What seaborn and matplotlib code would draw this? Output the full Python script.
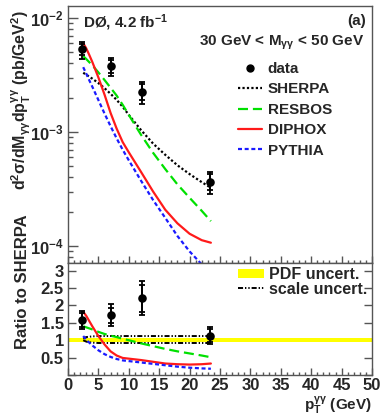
import numpy as np
import pandas as pd
import matplotlib
matplotlib.use("Agg")
import matplotlib.pyplot as plt
import seaborn as sns
from matplotlib.lines import Line2D
from matplotlib.patches import Patch
from matplotlib.ticker import MultipleLocator, LogLocator, FuncFormatter, NullFormatter

# ---- measured diphoton cross section, 30 GeV < M_gg < 50 GeV ----
pt_data = [2.3, 7.0, 12.1, 23.4]
xsec_data = [5.3e-3, 3.79e-3, 2.26e-3, 3.67e-4]
xsec_err_tot = [0.9e-3, 0.7e-3, 0.5e-3, 0.8e-4]
xsec_err_stat = [0.6e-3, 0.5e-3, 0.37e-3, 0.6e-4]

ratio_data = [1.58, 1.72, 2.21, 1.13]
ratio_err_tot = [0.27, 0.31, 0.49, 0.25]
ratio_err_stat = [0.19, 0.22, 0.39, 0.18]

# ---- theory predictions ----
pt_theory = [2.5, 3.0, 3.5, 4.0, 5.0, 6.0, 7.0, 8.0, 9.0, 10.0,
             12.0, 14.0, 16.0, 18.0, 20.0, 22.0, 23.5]
sherpa = [3.30e-3, 3.18e-3, 3.05e-3, 2.93e-3, 2.68e-3, 2.42e-3, 2.16e-3, 1.91e-3, 1.66e-3,
          1.41e-3, 1.04e-3, 7.9e-4, 6.3e-4, 5.1e-4, 4.27e-4, 3.63e-4, 3.24e-4]
resbos_ratio = [1.40, 1.37, 1.34, 1.31, 1.24, 1.18, 1.13, 1.09, 1.04, 1.00,
                0.91, 0.83, 0.75, 0.68, 0.62, 0.56, 0.51]
diphox_ratio = [1.82, 1.70, 1.55, 1.40, 1.12, 0.88, 0.68, 0.56, 0.49, 0.47,
                0.43, 0.38, 0.33, 0.31, 0.30, 0.31, 0.33]
pythia_ratio = [1.12, 1.02, 0.93, 0.85, 0.71, 0.60, 0.52, 0.46, 0.42, 0.40,
                0.36, 0.32, 0.28, 0.24, 0.21, 0.19, 0.18]

# SHERPA scale variations and PDF band (ratio to SHERPA)
scale_hi = [1.05, 1.09, 1.10, 1.11, 1.12, 1.12, 1.12, 1.12, 1.12, 1.12,
            1.12, 1.12, 1.12, 1.12, 1.12, 1.12, 1.12]
scale_lo = [1.00, 0.96, 0.94, 0.93, 0.92, 0.92, 0.92, 0.92, 0.92, 0.92,
            0.92, 0.92, 0.92, 0.92, 0.92, 0.92, 0.92]
pdf_x = [0, 50]
pdf_lo = [0.95, 0.95]
pdf_hi = [1.05, 1.05]

models = ["SHERPA", "RESBOS", "DIPHOX", "PYTHIA"]
model_ratios = {"SHERPA": [1.0] * len(pt_theory), "RESBOS": resbos_ratio,
                "DIPHOX": diphox_ratio, "PYTHIA": pythia_ratio}
colors = {"SHERPA": "black", "RESBOS": "#00e000", "DIPHOX": "#ff1a1a", "PYTHIA": "#1a1aff"}
dash_map = {"SHERPA": (1.0, 1.0), "RESBOS": (4.5, 2.2), "DIPHOX": "", "PYTHIA": (1.8, 1.2)}

rows = []
for m in models:
    for x, s, r in zip(pt_theory, sherpa, model_ratios[m]):
        rows.append({"pt": x, "xsec": s * r, "ratio": r, "model": m})
theory = pd.DataFrame(rows)

# ---- style ----
sns.set_style("ticks")
plt.rcParams["font.family"] = ["Liberation Sans", "DejaVu Sans"]
plt.rcParams["font.weight"] = "bold"
plt.rcParams["mathtext.fontset"] = "custom"
plt.rcParams["mathtext.rm"] = "Liberation Sans:bold"
plt.rcParams["mathtext.it"] = "Liberation Sans:italic:bold"
plt.rcParams["mathtext.bf"] = "Liberation Sans:bold"
plt.rcParams["mathtext.sf"] = "Liberation Sans:bold"
plt.rcParams["mathtext.default"] = "rm"

W, H = 387, 417
fig = plt.figure(figsize=(W / 100, H / 100), dpi=100)
left, right = 68 / W, 372 / W
ax_top = fig.add_axes([left, 1 - 263 / H, right - left, 257 / H])
ax_bot = fig.add_axes([left, 1 - 375 / H, right - left, 112 / H], sharex=ax_top)

frame_col = "#555555"
for ax in (ax_top, ax_bot):
    for sp in ax.spines.values():
        sp.set_color(frame_col)
        sp.set_linewidth(1.0)
        sp.set_visible(True)

# ---- top panel: cross section ----
sns.lineplot(data=theory, x="pt", y="xsec", hue="model", style="model",
             hue_order=models, style_order=models, palette=colors, dashes=dash_map,
             linewidth=1.6, sort=False, errorbar=None, legend=False, ax=ax_top)
ax_top.errorbar(pt_data, xsec_data, yerr=xsec_err_tot, fmt="none", ecolor="black",
                elinewidth=1.3, capsize=2.5, capthick=1.3, zorder=5)
ax_top.errorbar(pt_data, xsec_data, yerr=xsec_err_stat, fmt="none", ecolor="black",
                elinewidth=1.3, capsize=2.5, capthick=1.3, zorder=5)
sns.scatterplot(x=pt_data, y=xsec_data, color="black", s=38, edgecolor="black",
                linewidth=0, zorder=6, ax=ax_top)

ax_top.set_yscale("log")
ax_top.set_ylim(7.1e-5, 1.27e-2)
ax_top.set_xlim(0, 50)
ax_top.yaxis.set_major_locator(LogLocator(base=10, numticks=10))
ax_top.yaxis.set_minor_locator(LogLocator(base=10, subs=np.arange(2, 10), numticks=20))
ax_top.yaxis.set_minor_formatter(NullFormatter())
ax_top.tick_params(axis="y", which="major", direction="in", length=7, width=1,
                   color=frame_col, labelsize=12, pad=3, right=False)
ax_top.tick_params(axis="y", which="minor", direction="in", length=3.5, width=1,
                   color=frame_col, right=False)
ax_top.tick_params(axis="x", which="both", direction="in", color=frame_col,
                   labelbottom=False, top=False, width=1)
ax_top.tick_params(axis="x", which="major", length=5)
ax_top.tick_params(axis="x", which="minor", length=2.5)
ax_top.set_xlabel("")
ax_top.set_ylabel(r"d$^{2}\sigma$/dM$_{\gamma\gamma}$dp$_{T}^{\gamma\gamma}$ (pb/GeV$^{2}$)",
                  fontsize=11.5, fontweight="bold", loc="top")
ax_top.yaxis.set_label_coords(-0.115, 0.985)

ax_top.text(0.05, 0.934, r"DØ, 4.2 fb$^{-1}$", transform=ax_top.transAxes,
            fontsize=11, fontweight="bold", ha="left", va="center")
ax_top.text(0.98, 0.942, "(a)", transform=ax_top.transAxes,
            fontsize=11, fontweight="bold", ha="right", va="center")
ax_top.text(0.974, 0.856, r"30 GeV < M$_{\gamma\gamma}$ < 50 GeV", transform=ax_top.transAxes,
            fontsize=11, fontweight="bold", ha="right", va="center")

top_handles = [Line2D([], [], color="black", marker="o", markersize=5, linestyle="none")]
for m in models:
    h = Line2D([], [], color=colors[m], linewidth=1.6)
    if dash_map[m]:
        h.set_dashes(dash_map[m])
    top_handles.append(h)
ax_top.legend(top_handles, ["data"] + models, loc="upper left",
              bbox_to_anchor=(0.559, 0.782), frameon=False, borderpad=0,
              borderaxespad=0, handlelength=1.6, handletextpad=0.35,
              labelspacing=0.42, prop={"size": 11, "weight": "bold"})

# ---- bottom panel: ratio to SHERPA ----
ax_bot.fill_between(pdf_x, pdf_lo, pdf_hi, color="#ffff00", linewidth=0, zorder=1)
scale_dash = (2.6, 1.0, 0.7, 1.0, 0.7, 1.0)
for band in (scale_hi, scale_lo):
    ln = sns.lineplot(x=pt_theory, y=band, color="black", linewidth=1.4,
                      sort=False, errorbar=None, ax=ax_bot, zorder=2).lines[-1]
    ln.set_dashes(scale_dash)
ratio_models = theory[theory["model"] != "SHERPA"]
sns.lineplot(data=ratio_models, x="pt", y="ratio", hue="model", style="model",
             hue_order=models[1:], style_order=models[1:], palette=colors,
             dashes=dash_map, linewidth=1.6, sort=False, errorbar=None,
             legend=False, ax=ax_bot, zorder=3)
ax_bot.errorbar(pt_data, ratio_data, yerr=ratio_err_tot, fmt="none", ecolor="black",
                elinewidth=1.3, capsize=2.5, capthick=1.3, zorder=5)
ax_bot.errorbar(pt_data, ratio_data, yerr=ratio_err_stat, fmt="none", ecolor="black",
                elinewidth=1.3, capsize=2.5, capthick=1.3, zorder=5)
sns.scatterplot(x=pt_data, y=ratio_data, color="black", s=38, edgecolor="black",
                linewidth=0, zorder=6, ax=ax_bot)

ax_bot.set_xlim(0, 50)
ax_bot.set_ylim(0, 3.22)
ax_bot.xaxis.set_major_locator(MultipleLocator(5))
ax_bot.xaxis.set_minor_locator(MultipleLocator(1))
ax_bot.yaxis.set_major_locator(MultipleLocator(0.5))
ax_bot.yaxis.set_major_formatter(FuncFormatter(lambda v, p: "" if v <= 0 else f"{v:g}"))
ax_bot.tick_params(axis="both", which="both", direction="in", color=frame_col, width=1,
                   labelsize=12)
ax_bot.tick_params(axis="y", which="major", length=6, right=True, pad=3)
ax_bot.tick_params(axis="x", which="major", length=5, top=False, pad=2)
ax_bot.tick_params(axis="x", which="minor", length=2.5, top=False)
ax_bot.set_ylabel("Ratio to SHERPA", fontsize=12, fontweight="bold", loc="top")
ax_bot.yaxis.set_label_coords(-0.125, 1.43)
ax_bot.set_xlabel(r"p$_{T}^{\gamma\gamma}$ (GeV)", fontsize=11, fontweight="bold",
                  loc="right")
ax_bot.xaxis.label.set_verticalalignment("top")
ax_bot.xaxis.set_label_coords(1.0, -0.175)

bot_handles = [Patch(facecolor="#ffff00", edgecolor="none"),
               Line2D([], [], color="black", linewidth=1.4, dashes=scale_dash)]
ax_bot.legend(bot_handles, ["PDF uncert.", "scale uncert."], loc="upper left",
              bbox_to_anchor=(0.56, 0.965), frameon=False, borderpad=0,
              borderaxespad=0, handlelength=1.6, handleheight=0.5, handletextpad=0.35,
              labelspacing=-0.02, prop={"size": 11.5, "weight": "bold"})

fig.savefig("out.png", dpi=100)
